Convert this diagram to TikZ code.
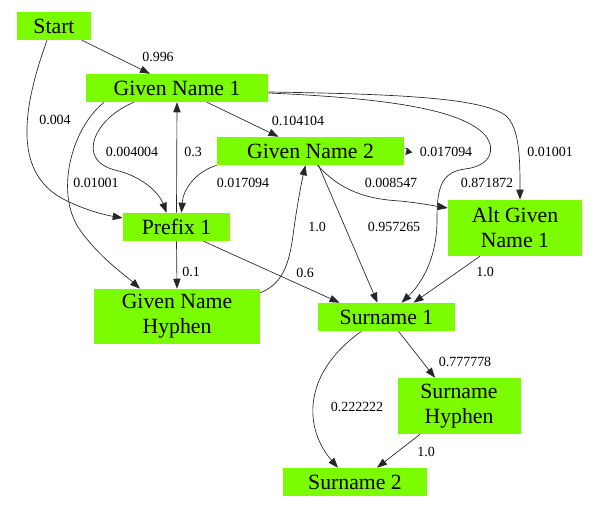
\documentclass[tikz,border=0pt]{standalone}
\usepackage{fontspec}
\usepackage{graphicx}
\newfontfamily\libser{Liberation Serif}
\usetikzlibrary{arrows.meta,calc}
\definecolor{lawn}{RGB}{124,252,0}
\newcommand\lbtxt[1]{\scalebox{0.644}{#1}}
\tikzset{
  box/.style={fill=lawn, draw=none, inner sep=0pt, align=center,
    font=\libser\fontsize{16.3}{18.8}\selectfont},
  lbl/.style={inner sep=0pt, font=\libser\fontsize{16.3}{18.8}\selectfont},
  edge/.style={line width=0.5pt, black!85, -{Triangle[length=7.5pt,width=5.5pt]}},
}
\begin{document}
\begin{tikzpicture}[x=0.75pt,y=-0.75pt]
\useasboundingbox (0,0) rectangle (600,509);
% nodes
\node[box, minimum width=55.5pt, minimum height=21pt] (start) at (54,26) {Start};
\node[box, minimum width=136.5pt, minimum height=21pt] (gn1) at (177,88) {Given Name 1};
\node[box, minimum width=140.25pt, minimum height=21pt] (gn2) at (310.5,151) {Given Name 2};
\node[box, minimum width=80.25pt, minimum height=21pt] (prefix) at (176.5,227) {Prefix 1};
\node[box, minimum width=124.5pt, minimum height=41.25pt] (gnh) at (177,316.5) {Given Name\\Hyphen};
\node[box, minimum width=100.5pt, minimum height=42pt] (agn) at (515,228) {Alt Given\\Name 1};
\node[box, minimum width=102.75pt, minimum height=21pt] (s1) at (386.5,317) {Surname 1};
\node[box, minimum width=92.25pt, minimum height=42pt] (sh) at (459,406) {Surname\\Hyphen};
\node[box, minimum width=108pt, minimum height=21pt] (s2) at (355,482) {Surname 2};
% edges
\draw[edge] ($(start.south)+(28,0)$) -- ($(gn1.north)+(-27,0)$);
\draw[edge] ($(start.south)+(-7,0)$) .. controls (20,115) and (15,175) .. (65,200)
  .. controls (85,210) and (105,215) .. ($(prefix.west)+(0,-9)$);
\draw[edge] ($(gn1.south)+(-43,0)$) .. controls (95,118) and (75,160) .. (115,170)
  .. controls (145,177) and (160,195) .. ($(prefix.north)+(-10,0)$);
\draw[edge] ($(gn1.south)+(-73,0)$) .. controls (70,130) and (55,195) .. (80,230)
  .. controls (100,258) and (125,275) .. ($(gnh.north)+(-37,0)$);
\draw[edge] (prefix.north) -- (gn1.south);
\draw[edge] (prefix.south) -- (gnh.north);
\draw[edge] ($(gn1.south)+(30,0)$) -- ($(gn2.north)+(-32,0)$);
\draw[line width=0.5pt, black!85, -{Triangle[length=5pt,width=5pt]}] ($(gn2.east)+(0,-3)$) .. controls (407,147) and (408,152) .. ($(gn2.east)+(1,4)$);
\draw[edge] (gn2.south west) .. controls (195,172) and (183,190) .. ($(prefix.north)+(5,0)$);
\draw[edge] ($(gn1.east)+(0,4)$) .. controls (400,94) and (480,98) .. (505,115)
  .. controls (520,127) and (520,160) .. ($(agn.north)+(5,0)$);
\draw[edge] ($(gn1.east)+(0,5)$) .. controls (380,98) and (460,108) .. (485,135)
  .. controls (497,150) and (490,166) .. (465,169)
  .. controls (440,172) and (437,190) .. (437,220)
  .. controls (437,260) and (420,285) .. ($(s1.north)+(15,0)$);
\draw[edge] ($(gn2.south)+(7,0)$) .. controls (340,190) and (365,199) .. (400,201)
  .. controls (420,203) and (435,206) .. ($(agn.west)+(0,-20)$);
\draw[edge] ($(gn2.south)+(8,0)$) -- ($(s1.north)+(-9,0)$);
\draw[edge] ($(gnh.north east)+(0,4)$) .. controls (285,283) and (290,260) .. (294,228)
  .. controls (298,200) and (302,180) .. ($(gn2.south)+(-5,0)$);
\draw[edge] ($(prefix.south)+(27,0)$) -- ($(s1.north)+(-47,0)$);
\draw[edge] ($(agn.south)+(-35,0)$) -- ($(s1.north)+(27,0)$);
\draw[edge] ($(s1.south)+(12,0)$) -- ($(sh.north)+(-24,0)$);
\draw[edge] ($(s1.south)+(-25,0)$) .. controls (300,375) and (305,430) .. ($(s2.north)+(-17,0)$);
\draw[edge] ($(sh.south)+(-39,0)$) -- ($(s2.north)+(22,0)$);
% labels
\node[lbl] (l1) at (158,57) {\lbtxt{0.996}};
\node[lbl] (l2) at (55,120) {\lbtxt{0.004}};
\node[lbl] (l3) at (132,152) {\lbtxt{0.004004}};
\node[lbl] (l4) at (193,152) {\lbtxt{0.3}};
\node[lbl] (l5) at (298,121) {\lbtxt{0.104104}};
\node[lbl] (l6) at (446,152) {\lbtxt{0.017094}};
\node[lbl] (l7) at (243,183) {\lbtxt{0.017094}};
\node[lbl] (l8) at (550,152) {\lbtxt{0.01001}};
\node[lbl] (l9) at (487,183) {\lbtxt{0.871872}};
\node[lbl] (l10) at (391,183) {\lbtxt{0.008547}};
\node[lbl] (l11) at (394,227) {\lbtxt{0.957265}};
\node[lbl] (l12) at (317,227) {\lbtxt{1.0}};
\node[lbl] (l13) at (96,183) {\lbtxt{0.01001}};
\node[lbl] (l14) at (191,272) {\lbtxt{0.1}};
\node[lbl] (l15) at (305,273) {\lbtxt{0.6}};
\node[lbl] (l16) at (485,272) {\lbtxt{1.0}};
\node[lbl] (l17) at (465,362) {\lbtxt{0.777778}};
\node[lbl] (l18) at (357,407) {\lbtxt{0.222222}};
\node[lbl] (l19) at (426,452) {\lbtxt{1.0}};
\end{tikzpicture}
\end{document}
